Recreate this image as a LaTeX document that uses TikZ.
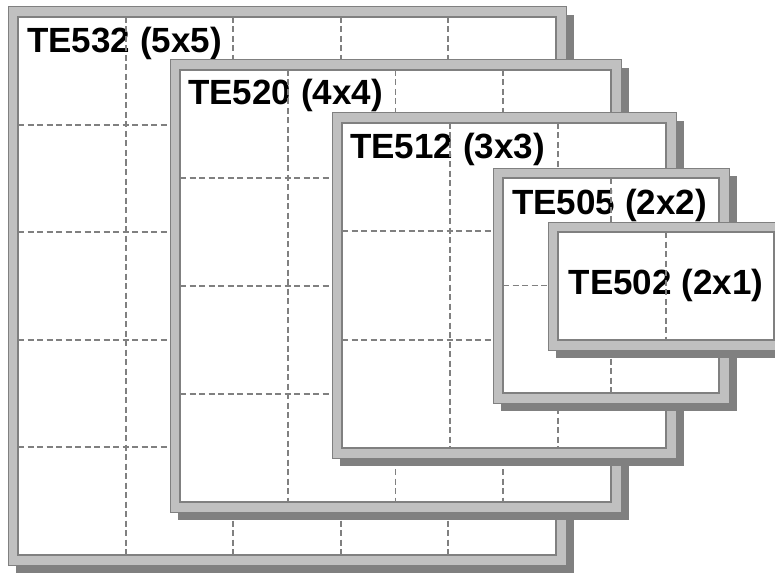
\documentclass[tikz,border=0pt]{standalone}
\usepackage{fontspec}
\setmainfont{Liberation Sans}
\usetikzlibrary{calc}
\definecolor{cS}{HTML}{C0C0C0}
\definecolor{cG}{HTML}{808080}
\tikzset{
  drop/.style={fill=cG},
  rim/.style={fill=cS,draw=cG,line width=1pt},
  pane/.style={fill=white,draw=cG,line width=2pt},
  gridln/.style={cG,line width=1.9pt,dash pattern=on 6pt off 3.5pt},
  lbl/.style={font=\fontsize{35}{42}\selectfont\bfseries,inner sep=0pt},
}
% pane corners x0,y0,x1,y1 (pixels, y down)
\newcommand{\teframe}[4]{%
  \fill[drop] (#1-2,#2-2) rectangle (#3+18,#4+18);
  \draw[rim] (#1-10,#2-10) rectangle (#3+10,#4+10);
  \draw[pane] (#1,#2) rectangle (#3,#4);
}
% same corners, then cols, rows
\newcommand{\tegrid}[6]{%
  \foreach \i in {1,...,#5}{\ifnum\i<#5
    \draw[gridln] ({#1+\i*(#3-#1)/#5},#2) -- ({#1+\i*(#3-#1)/#5},#4);\fi}
  \foreach \j in {1,...,#6}{\ifnum\j<#6
    \draw[gridln] (#1,{#2+\j*(#4-#2)/#6}) -- (#3,{#2+\j*(#4-#2)/#6});\fi}
}

\begin{document}
\begin{tikzpicture}[x=1pt,y=-1pt]
  \useasboundingbox (0,0) rectangle (775,572);
  \clip (0,0) rectangle (775,572);
  % 5x5
  \teframe{18}{17}{556}{555}
  \node[lbl,anchor=base west] (te532) at (27,53) {TE532 (5x5)};
  \tegrid{18}{17}{556}{555}{5}{5}
  % 4x4
  \teframe{180}{70}{611}{502}
  \node[lbl,anchor=base west] (te520) at (188,105) {TE520 (4x4)};
  \tegrid{180}{70}{611}{502}{4}{4}
  % 3x3
  \teframe{342}{123}{666}{448}
  \node[lbl,anchor=base west] (te512) at (350,159) {TE512 (3x3)};
  \tegrid{342}{123}{666}{448}{3}{3}
  % 2x2
  \teframe{503}{178}{719}{393}
  \node[lbl,anchor=base west] (te505) at (512,214) {TE505 (2x2)};
  \tegrid{503}{178}{719}{393}{2}{2}
  % 2x1
  \teframe{558}{232}{774}{340}
  \node[lbl,anchor=base] (te502) at (666,294) {TE502 (2x1)};
  \tegrid{558}{232}{774}{340}{2}{1}
\end{tikzpicture}
\end{document}
